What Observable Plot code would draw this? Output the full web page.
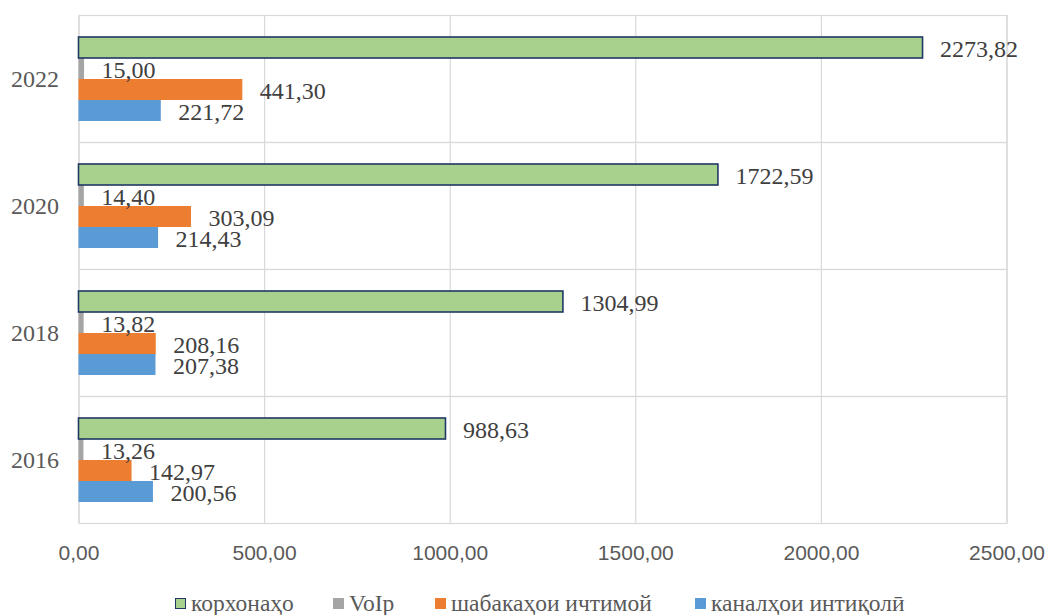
<!DOCTYPE html>
<html>
<head>
<meta charset="utf-8">
<script src="https://cdn.jsdelivr.net/npm/d3@7"></script>
<script src="https://cdn.jsdelivr.net/npm/@observablehq/plot@0.6"></script>
<style>
  body { margin: 0; background: #fff; }
  #legend { position: relative; height: 35px; font-family: "Liberation Serif", "Times New Roman", "DejaVu Serif", serif; font-size: 23.5px; color: #595959; }
  #legend .item { position: absolute; top: 0; display: flex; align-items: center; height: 46px; white-space: nowrap; }
  #legend .sw { width: 11px; height: 11px; margin-right: 5px; box-sizing: border-box; }
</style>
</head>
<body>
<div id="chart"></div>
<div id="legend"></div>
<script>
const years = ["2022", "2020", "2018", "2016"];
const series = ["корхонаҳо", "VoIp", "шабакаҳои ичтимой", "каналҳои интиқолӣ"];
const colors = ["#A9D18E", "#A5A5A5", "#ED7D31", "#5B9BD5"];
const korxonaho = [2273.82, 1722.59, 1304.99, 988.63];
const voip = [15.00, 14.40, 13.82, 13.26];
const shabaka = [441.30, 303.09, 208.16, 142.97];
const kanal = [221.72, 214.43, 207.38, 200.56];
const xTicks = [0, 500, 1000, 1500, 2000, 2500];

const serifFont = '"Liberation Serif", "Times New Roman", "DejaVu Serif", serif';
const valuesBySeries = [korxonaho, voip, shabaka, kanal];
const data = [];
years.forEach((yr, i) => {
  series.forEach((s, j) => data.push({year: yr, series: s, value: valuesBySeries[j][i]}));
});
const fmt = v => v.toFixed(2).replace(".", ",");

const chart = Plot.plot({
  width: 1050,
  height: 580,
  marginLeft: 78.5,
  marginRight: 43.5,
  marginTop: 14,
  marginBottom: 57,
  x: {domain: [0, 2500], axis: null},
  y: {domain: series, axis: null, paddingInner: 0, paddingOuter: 0.9},
  fy: {domain: years, padding: 0, axis: null},
  color: {domain: series, range: colors},
  marks: [
    Plot.gridX(xTicks, {stroke: "#d9d9d9", strokeOpacity: 1, strokeWidth: 1.2}),
    Plot.frame({stroke: "#d9d9d9", strokeWidth: 1.2}),
    Plot.barX(data.filter(d => d.series !== series[0]), {x: "value", y: "series", fy: "year", fill: "series"}),
    Plot.barX(data.filter(d => d.series === series[0]), {x: "value", y: "series", fy: "year", fill: "series", stroke: "#203864", strokeWidth: 1.6}),
    Plot.text(data, {x: "value", y: "series", fy: "year", text: d => fmt(d.value), dx: 17, dy: 1, textAnchor: "start", fontFamily: serifFont, fontSize: 24, fill: "#404040"}),
    Plot.axisX({ticks: xTicks, tickFormat: fmt, tickSize: 0, tickPadding: 22, label: null, fontFamily: "Liberation Sans", fontSize: 21, color: "#595959"}),
    Plot.axisFy({anchor: "left", tickSize: 0, tickPadding: 20, label: null, fontFamily: serifFont, fontSize: 24, color: "#595959"})
  ]
});
document.getElementById("chart").appendChild(chart);

const legend = document.getElementById("legend");
const lefts = [175, 333, 435, 695];
series.forEach((s, j) => {
  const item = document.createElement("div");
  item.className = "item";
  item.style.left = lefts[j] + "px";
  const sw = document.createElement("div");
  sw.className = "sw";
  sw.style.background = colors[j];
  if (j === 0) sw.style.border = "1.5px solid #203864";
  const t = document.createElement("span");
  t.textContent = s;
  item.appendChild(sw);
  item.appendChild(t);
  legend.appendChild(item);
});
</script>
</body>
</html>
